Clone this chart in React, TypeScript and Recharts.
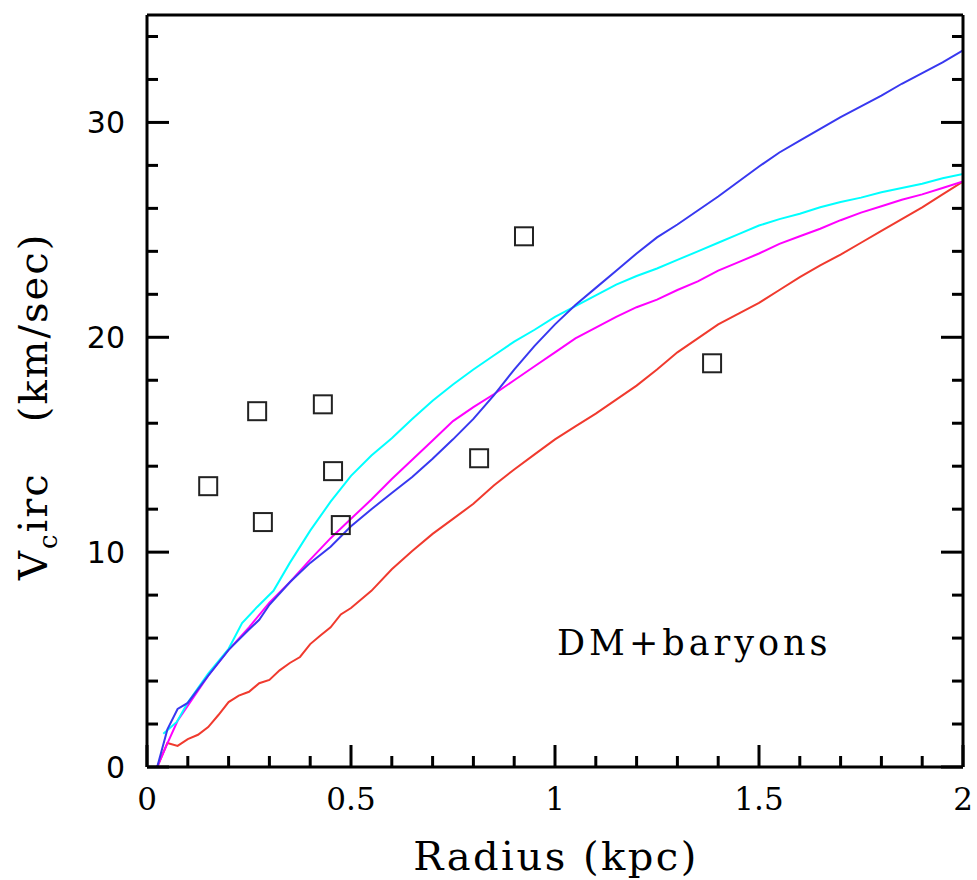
import { ComposedChart, Line, Scatter, XAxis, YAxis } from "recharts";

// radius (kpc) / circular velocity (km/s) for each model curve
const blueR = [0.025, 0.05, 0.075, 0.1, 0.15, 0.2, 0.25, 0.275, 0.3, 0.35, 0.4, 0.45, 0.5, 0.55, 0.6, 0.65, 0.7, 0.75, 0.8, 0.85, 0.9, 0.95, 1.0, 1.05, 1.1, 1.15, 1.2, 1.25, 1.3, 1.35, 1.4, 1.45, 1.5, 1.55, 1.6, 1.65, 1.7, 1.75, 1.8, 1.85, 1.9, 1.95, 2.0];
const blueV = [0, 1.75, 2.7, 2.98, 4.25, 5.45, 6.4, 6.85, 7.55, 8.6, 9.5, 10.25, 11.2, 12.0, 12.75, 13.5, 14.35, 15.25, 16.2, 17.3, 18.5, 19.6, 20.6, 21.5, 22.3, 23.1, 23.9, 24.65, 25.25, 25.9, 26.55, 27.25, 27.95, 28.6, 29.15, 29.7, 30.25, 30.75, 31.25, 31.8, 32.3, 32.8, 33.35];

const cyanR = [0.04, 0.073, 0.1, 0.15, 0.2, 0.233, 0.27, 0.31, 0.35, 0.4, 0.45, 0.5, 0.55, 0.6, 0.65, 0.7, 0.75, 0.8, 0.85, 0.9, 0.95, 1.0, 1.05, 1.1, 1.15, 1.2, 1.25, 1.3, 1.35, 1.4, 1.45, 1.5, 1.55, 1.6, 1.65, 1.7, 1.75, 1.8, 1.85, 1.9, 1.95, 2.0];
const cyanV = [1.55, 2.1, 3.0, 4.35, 5.5, 6.7, 7.45, 8.2, 9.5, 11.0, 12.35, 13.55, 14.5, 15.3, 16.2, 17.05, 17.8, 18.5, 19.15, 19.8, 20.35, 20.95, 21.45, 21.95, 22.45, 22.85, 23.2, 23.6, 24.0, 24.4, 24.8, 25.2, 25.5, 25.75, 26.05, 26.3, 26.5, 26.75, 26.95, 27.15, 27.4, 27.6];

const magentaR = [0.025, 0.05, 0.075, 0.1, 0.15, 0.2, 0.25, 0.3, 0.35, 0.4, 0.45, 0.5, 0.55, 0.6, 0.65, 0.7, 0.75, 0.8, 0.85, 0.9, 0.95, 1.0, 1.05, 1.1, 1.15, 1.2, 1.25, 1.3, 1.35, 1.4, 1.45, 1.5, 1.55, 1.6, 1.65, 1.7, 1.75, 1.8, 1.85, 1.9, 1.95, 2.0];
const magentaV = [0, 1.1, 2.15, 2.85, 4.25, 5.45, 6.5, 7.65, 8.6, 9.65, 10.65, 11.55, 12.45, 13.4, 14.3, 15.2, 16.1, 16.75, 17.35, 18.0, 18.65, 19.3, 19.95, 20.45, 20.95, 21.4, 21.75, 22.2, 22.6, 23.1, 23.5, 23.9, 24.35, 24.7, 25.05, 25.45, 25.8, 26.1, 26.4, 26.65, 26.95, 27.25];

const redR = [0.025, 0.05, 0.075, 0.1, 0.125, 0.15, 0.175, 0.2, 0.225, 0.25, 0.275, 0.3, 0.325, 0.35, 0.375, 0.4, 0.425, 0.45, 0.475, 0.5, 0.55, 0.6, 0.65, 0.7, 0.75, 0.8, 0.85, 0.9, 0.95, 1.0, 1.05, 1.1, 1.15, 1.2, 1.25, 1.3, 1.35, 1.4, 1.45, 1.5, 1.55, 1.6, 1.65, 1.7, 1.75, 1.8, 1.85, 1.9, 1.95, 2.0];
const redV = [0, 1.12, 0.98, 1.3, 1.5, 1.86, 2.42, 3.02, 3.32, 3.5, 3.9, 4.05, 4.5, 4.84, 5.12, 5.72, 6.12, 6.5, 7.1, 7.4, 8.2, 9.2, 10.05, 10.85, 11.55, 12.25, 13.1, 13.85, 14.55, 15.25, 15.85, 16.45, 17.1, 17.75, 18.5, 19.3, 19.95, 20.6, 21.1, 21.6, 22.2, 22.8, 23.35, 23.85, 24.4, 24.95, 25.5, 26.05, 26.65, 27.25];

// observed points (open squares)
const obsR = [0.15, 0.27, 0.284, 0.431, 0.456, 0.475, 0.814, 0.924, 1.385];
const obsV = [13.07, 16.56, 11.4, 16.88, 13.77, 11.26, 14.37, 24.7, 18.79];

const xTicks = [0, 0.1, 0.2, 0.3, 0.4, 0.5, 0.6, 0.7, 0.8, 0.9, 1, 1.1, 1.2, 1.3, 1.4, 1.5, 1.6, 1.7, 1.8, 1.9, 2];
const yTicks = [0, 2, 4, 6, 8, 10, 12, 14, 16, 18, 20, 22, 24, 26, 28, 30, 32, 34];

const toPoints = (rs: number[], vs: number[]) => rs.map((r, i) => ({ r, v: vs[i] }));

const blueData = toPoints(blueR, blueV);
const cyanData = toPoints(cyanR, cyanV);
const magentaData = toPoints(magentaR, magentaV);
const redData = toPoints(redR, redV);
const obsData = toPoints(obsR, obsV);

const MAJOR = 22;
const MINOR = 11;
const serif = "'DejaVu Serif', serif";
const sans = "'DejaVu Sans', sans-serif";

const isMajor = (v: number, step: number) => Math.abs(v / step - Math.round(v / step)) < 1e-6;

const BottomTick = (props: any) => {
  const { x, y, payload } = props;
  const major = isMajor(payload.value, 0.5);
  return (
    <g>
      <line x1={x} y1={y} x2={x} y2={y - (major ? MAJOR : MINOR)} stroke="#000" strokeWidth={3} />
      {major && (
        <text x={x} y={y + 43} textAnchor="middle" fontFamily={serif} fontSize={31} fill="#000">
          {String(payload.value)}
        </text>
      )}
    </g>
  );
};

const TopTick = (props: any) => {
  const { x, y, payload } = props;
  const major = isMajor(payload.value, 0.5);
  return <line x1={x} y1={y} x2={x} y2={y + (major ? MAJOR : MINOR)} stroke="#000" strokeWidth={3} />;
};

const LeftTick = (props: any) => {
  const { x, y, payload } = props;
  const major = isMajor(payload.value, 10);
  return (
    <g>
      <line x1={x} y1={y} x2={x + (major ? MAJOR : MINOR)} y2={y} stroke="#000" strokeWidth={3} />
      {major && (
        <text x={x - 22} y={y + 11} textAnchor="end" fontFamily={sans} fontSize={30} fill="#000">
          {String(payload.value)}
        </text>
      )}
    </g>
  );
};

const RightTick = (props: any) => {
  const { x, y, payload } = props;
  const major = isMajor(payload.value, 10);
  return <line x1={x} y1={y} x2={x - (major ? MAJOR : MINOR)} y2={y} stroke="#000" strokeWidth={3} />;
};

const Square = (props: any) => {
  const { cx, cy } = props;
  return <rect x={cx - 9} y={cy - 9} width={18} height={18} fill="none" stroke="#222" strokeWidth={2} />;
};

const axisLine = { stroke: "#000", strokeWidth: 3 };

export default function App() {
  return (
    <div style={{ position: "absolute", left: 0, top: 0, background: "#fff" }}>
      <ComposedChart width={977} height={880} margin={{ top: 0, right: 0, bottom: 0, left: 0 }}>
        <XAxis
          xAxisId="b"
          dataKey="r"
          type="number"
          domain={[0, 2]}
          allowDataOverflow
          ticks={xTicks}
          interval={0}
          height={113}
          tickSize={0}
          tickMargin={0}
          tickLine={false}
          axisLine={axisLine}
          tick={BottomTick}
        />
        <XAxis
          xAxisId="t"
          orientation="top"
          type="number"
          domain={[0, 2]}
          allowDataOverflow
          ticks={xTicks}
          interval={0}
          height={15}
          tickSize={0}
          tickMargin={0}
          tickLine={false}
          axisLine={axisLine}
          tick={TopTick}
        />
        <YAxis
          yAxisId="l"
          dataKey="v"
          type="number"
          domain={[0, 35]}
          allowDataOverflow
          ticks={yTicks}
          interval={0}
          width={147}
          tickSize={0}
          tickMargin={0}
          tickLine={false}
          axisLine={axisLine}
          tick={LeftTick}
        />
        <YAxis
          yAxisId="r"
          orientation="right"
          type="number"
          domain={[0, 35]}
          allowDataOverflow
          ticks={yTicks}
          interval={0}
          width={14}
          tickSize={0}
          tickMargin={0}
          tickLine={false}
          axisLine={axisLine}
          tick={RightTick}
        />
        <Line xAxisId="b" yAxisId="l" data={redData} dataKey="v" stroke="#f03a2e" strokeWidth={2} dot={false} isAnimationActive={false} />
        <Line xAxisId="b" yAxisId="l" data={magentaData} dataKey="v" stroke="#ff00ff" strokeWidth={2} dot={false} isAnimationActive={false} />
        <Line xAxisId="b" yAxisId="l" data={cyanData} dataKey="v" stroke="#00ffff" strokeWidth={2} dot={false} isAnimationActive={false} />
        <Line xAxisId="b" yAxisId="l" data={blueData} dataKey="v" stroke="#3838f0" strokeWidth={2} dot={false} isAnimationActive={false} />
        <Scatter xAxisId="b" yAxisId="l" data={obsData} dataKey="v" shape={Square} isAnimationActive={false} />
        <text x={556} y={870} textAnchor="middle" fontFamily={serif} fontSize={40} letterSpacing={2.5} fill="#000">
          Radius (kpc)
        </text>
        <text transform="translate(47,580) rotate(-90)" fontFamily={serif} fontSize={40} letterSpacing={2} fill="#000">
          V<tspan dy={10} fontSize={26}>c</tspan>
          <tspan dy={-10}>irc</tspan>
          <tspan dx={50}>(km/sec)</tspan>
        </text>
        <text x={557} y={655} fontFamily={serif} fontSize={35} letterSpacing={4} fill="#000">
          DM+baryons
        </text>
      </ComposedChart>
    </div>
  );
}
